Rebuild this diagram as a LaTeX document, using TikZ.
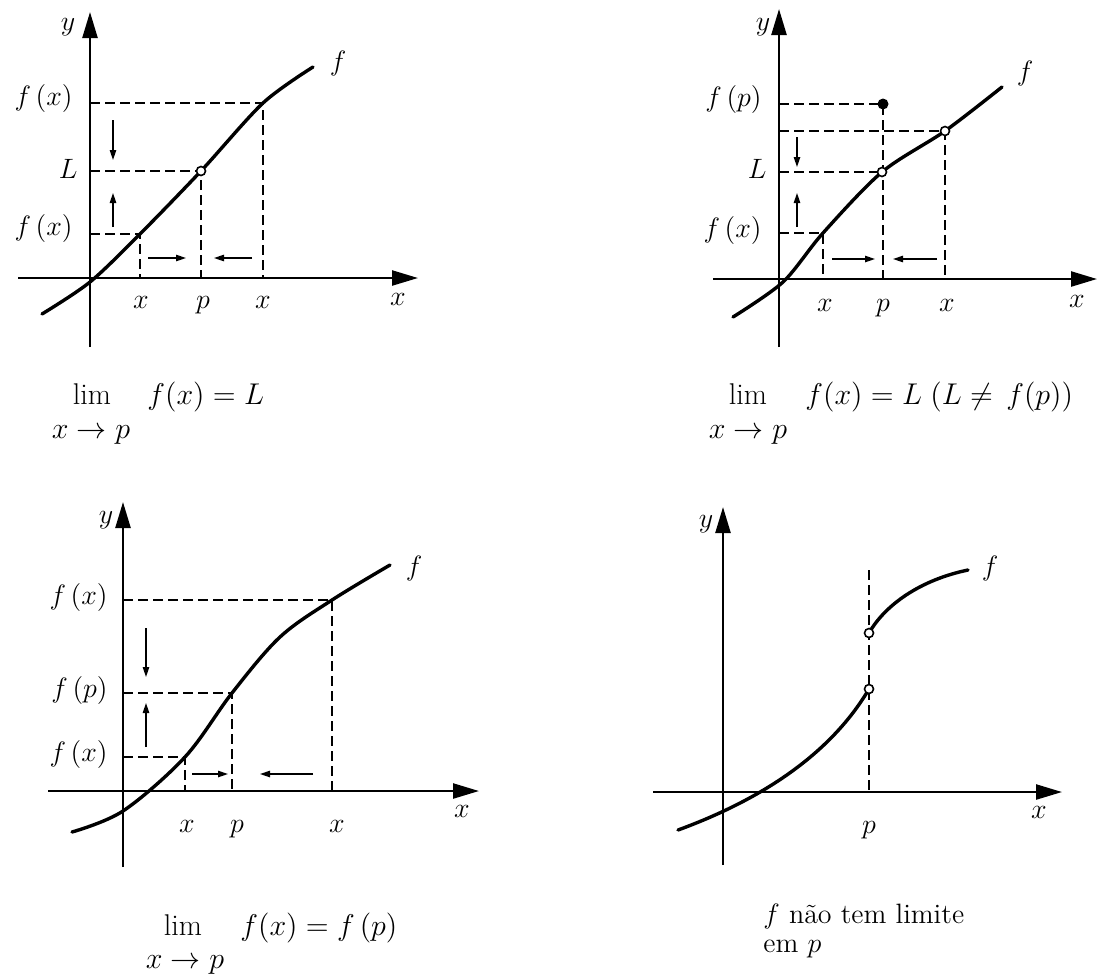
\RequirePackage{fix-cm}
\documentclass[tikz,border=0pt]{standalone}
\usetikzlibrary{arrows.meta}
\begin{document}
\begin{tikzpicture}[x=0.5pt,y=-0.5pt,
  axis/.style={line width=1.2pt,-{Triangle[length=13pt,width=7.5pt]}},
  curve/.style={line width=1.7pt,line cap=round},
  guide/.style={line width=0.8pt,dash pattern=on 5pt off 2.5pt},
  small/.style={line width=0.7pt,-{Triangle[length=5pt,width=3.2pt]}},
  lbl/.style={inner sep=0pt,font=\fontsize{14}{16}\selectfont},
  captext/.style={inner sep=0pt,font=\fontsize{15}{18}\selectfont},
  hole/.style={circle,draw,fill=white,line width=0.8pt,inner sep=0pt,minimum size=4.5pt},
  dot/.style={circle,fill,inner sep=0pt,minimum size=5.5pt}]
\useasboundingbox (0,0) rectangle (1102,976);

% ---------------- Panel 1 ----------------
\draw[axis] (90,347) -- (90,12);
\draw[axis] (18,278) -- (418,278);
\draw[guide] (90,103) -- (263,103) -- (263,278);
\draw[guide] (90,171) -- (201,171) -- (201,278);
\draw[guide] (90,234) -- (140,234) -- (140,278);
\draw[curve] plot[smooth,tension=0.5] coordinates {(42,314) (90,282) (140,234) (201,171) (263,103) (313,67)};
\node[hole] (h1) at (201,171) {};
\draw[small] (113,120) -- (113,160);
\draw[small] (113,227) -- (113,193);
\draw[small] (148,258) -- (186,258);
\draw[small] (252,258) -- (214,258);
\node[lbl,anchor=base] (y1) at (68,30) {$y$};
\node[lbl,anchor=base east] (fxa1) at (73,105) {$f\,(x)$};
\node[lbl,anchor=base east] (L1) at (78,178) {$L$};
\node[lbl,anchor=base east] (fxb1) at (73,235) {$f\,(x)$};
\node[lbl,anchor=base] (f1) at (338,70) {$f$};
\node[lbl,anchor=base] (ta1) at (141,308) {$x$};
\node[lbl,anchor=base] (tp1) at (203,308) {$p$};
\node[lbl,anchor=base] (tb1) at (263,308) {$x$};
\node[lbl,anchor=base] (x1) at (398,305) {$x$};
\node[captext,anchor=base] (lim1) at (92,404) {lim};
\node[captext,anchor=base] (to1) at (91,438) {$x\rightarrow p$};
\node[captext,anchor=base west] (eq1) at (147,404) {$f(x) = L$};

% ---------------- Panel 2 ----------------
\draw[axis] (779,347) -- (779,9);
\draw[axis] (713,279) -- (1097,279);
\draw[guide] (779,104) -- (883,104) -- (883,279);
\draw[guide] (779,131) -- (945,131) -- (945,279);
\draw[guide] (779,172) -- (882,172);
\draw[guide] (779,233) -- (823,233) -- (823,279);
\draw[curve] plot[smooth,tension=0.5] coordinates {(733,317) (783,282) (823,233) (882,172) (945,131) (1002,87)};
\node[hole] (h2a) at (882,172) {};
\node[hole] (h2b) at (945,131) {};
\node[dot] (d2) at (883,104) {};
\draw[small] (797,137) -- (797,167);
\draw[small] (797,227) -- (797,193);
\draw[small] (832,259) -- (875,259);
\draw[small] (937,259) -- (893,259);
\node[lbl,anchor=base] (y2) at (763,30) {$y$};
\node[lbl,anchor=base east] (fp2) at (762,106) {$f\,(p)$};
\node[lbl,anchor=base east] (L2) at (767,178) {$L$};
\node[lbl,anchor=base east] (fx2) at (762,237) {$f\,(x)$};
\node[lbl,anchor=base] (f2) at (1025,80) {$f$};
\node[lbl,anchor=base] (ta2) at (825,311) {$x$};
\node[lbl,anchor=base] (tp2) at (883,311) {$p$};
\node[lbl,anchor=base] (tb2) at (947,311) {$x$};
\node[lbl,anchor=base] (x2) at (1077,307) {$x$};
\node[captext,anchor=base] (lim2) at (748,404) {lim};
\node[captext,anchor=base] (to2) at (748,438) {$x\rightarrow p$};
\node[captext,anchor=base west] (eq2) at (805,404) {$f(x) = L\;(L \neq\, f(p))$};

% ---------------- Panel 3 ----------------
\draw[axis] (123,867) -- (123,502);
\draw[axis] (48,791) -- (479,791);
\draw[guide] (123,600) -- (332,600) -- (332,791);
\draw[guide] (123,693) -- (232,693) -- (232,791);
\draw[guide] (123,757) -- (185,757) -- (185,791);
\draw[curve] plot[smooth,tension=0.55] coordinates {(72,832) (123,811) (185,757) (232,693) (280,637) (332,600) (390,565)};
\draw[small] (146,628) -- (146,677);
\draw[small] (146,747) -- (146,703);
\draw[small] (192,774) -- (228,774);
\draw[small] (313,774) -- (260,774);
\node[lbl,anchor=base] (y3) at (106,523) {$y$};
\node[lbl,anchor=base east] (fxa3) at (108,604) {$f\,(x)$};
\node[lbl,anchor=base east] (fp3) at (108,697) {$f\,(p)$};
\node[lbl,anchor=base east] (fxb3) at (108,761) {$f\,(x)$};
\node[lbl,anchor=base] (f3) at (414,575) {$f$};
\node[lbl,anchor=base] (ta3) at (187,832) {$x$};
\node[lbl,anchor=base] (tp3) at (237,832) {$p$};
\node[lbl,anchor=base] (tb3) at (337,832) {$x$};
\node[lbl,anchor=base] (x3) at (462,817) {$x$};
\node[captext,anchor=base] (lim3) at (183,935) {lim};
\node[captext,anchor=base] (to3) at (185,968) {$x\rightarrow p$};
\node[captext,anchor=base west] (eq3) at (240,935) {$f(x) = f\,(p)$};

% ---------------- Panel 4 ----------------
\draw[axis] (723,865) -- (723,507);
\draw[axis] (653,792) -- (1062,792);
\draw[guide] (869,570) -- (869,792);
\draw[curve] (678,830) .. controls (760,800) and (830,755) .. (869,689);
\draw[curve] (869,633) .. controls (885,605) and (920,580) .. (968,570);
\node[hole] (h4a) at (869,633) {};
\node[hole] (h4b) at (869,689) {};
\node[lbl,anchor=base] (y4) at (706,527) {$y$};
\node[lbl,anchor=base] (f4) at (990,575) {$f$};
\node[lbl,anchor=base] (tp4) at (869,833) {$p$};
\node[lbl,anchor=base] (x4) at (1039,818) {$x$};
\node[captext,anchor=base west,font=\fontsize{14}{16}\selectfont] (c4a) at (763,923) {$f$ não tem limite};
\node[captext,anchor=base west,font=\fontsize{14}{16}\selectfont] (c4b) at (763,952) {em $p$};
\end{tikzpicture}
\end{document}
